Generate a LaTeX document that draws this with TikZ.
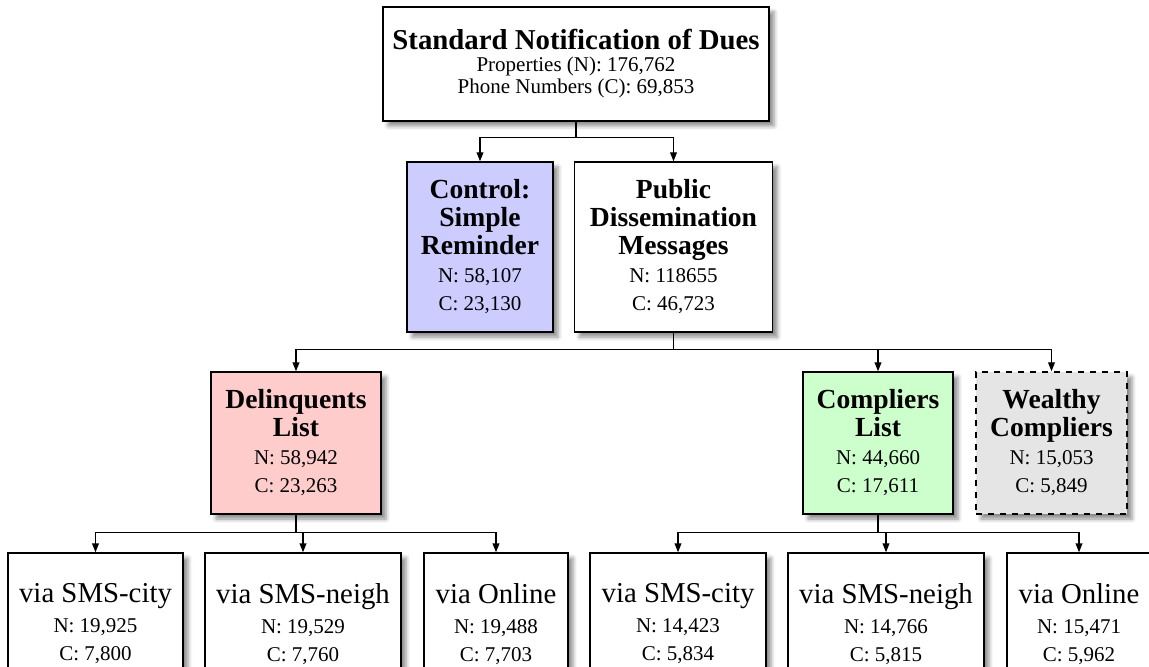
\documentclass[tikz,border=0pt]{standalone}
\usepackage{fontspec}
\setmainfont{Liberation Serif}
\usetikzlibrary{arrows.meta,shadows.blur}
\newcommand\ttl[1]{{\fontsize{13.8}{14}\selectfont\bfseries #1}}
\newcommand\via[1]{{\fontsize{14.4}{14}\selectfont #1}}
\tikzset{
  box/.style={draw, line width=0.7pt, fill=white, align=center, inner sep=0pt,
    font=\fontsize{10.5}{14}\selectfont,
    blur shadow={shadow xshift=2.5pt, shadow yshift=-2.5pt, shadow blur radius=2pt, shadow opacity=45}},
  link/.style={line width=0.7pt, -{Triangle[length=4.5pt,width=3.4pt]}}
}
\begin{document}
\begin{tikzpicture}[x=0.5pt, y=-0.5pt]
    \useasboundingbox (0,0) rectangle (1149,667);
    \clip (0,0) rectangle (1149,667);
    \node[box, minimum width=193pt, minimum height=57pt, font=\fontsize{10.5}{11}\selectfont] (top) at (576,64)
        {{\fontsize{14.4}{14}\selectfont\bfseries Standard Notification of Dues}\\
         Properties (N): 176,762\\ Phone Numbers (C): 69,853};
    \node[box, fill=blue!20, minimum width=73pt, minimum height=85pt] (ctrl) at (480,247)
        {\ttl{Control:}\\ \ttl{Simple}\\ \ttl{Reminder}\\ N: 58,107\\ C: 23,130};
    \node[box, minimum width=99pt, minimum height=85pt] (pub) at (673.5,247)
        {\ttl{Public}\\ \ttl{Dissemination}\\ \ttl{Messages}\\ N: 118655\\ C: 46,723};
    \node[box, fill=red!20, minimum width=85pt, minimum height=71pt] (del) at (296,443)
        {\ttl{Delinquents}\\ \ttl{List}\\ N: 58,942\\ C: 23,263};
    \node[box, fill=green!20, minimum width=75pt, minimum height=71pt] (comp) at (878,443)
        {\ttl{Compliers}\\ \ttl{List}\\ N: 44,660\\ C: 17,611};
    \node[box, dashed, fill=gray!20, minimum width=75.5pt, minimum height=71pt] (weal) at (1051.5,443)
        {\ttl{Wealthy}\\ \ttl{Compliers}\\ N: 15,053\\ C: 5,849};
    \node[box, minimum width=87.5pt, minimum height=71pt] (dsc) at (95.5,624)
        {\via{via SMS-city}\\[1pt] N: 19,925\\ C: 7,800};
    \node[box, minimum width=98pt, minimum height=71pt] (dsn) at (303,624)
        {\via{via SMS-neigh}\\[1pt] N: 19,529\\ C: 7,760};
    \node[box, minimum width=72pt, minimum height=71pt] (don) at (496,624)
        {\via{via Online}\\[1pt] N: 19,488\\ C: 7,703};
    \node[box, minimum width=88pt, minimum height=71pt] (csc) at (678,624)
        {\via{via SMS-city}\\[1pt] N: 14,423\\ C: 5,834};
    \node[box, minimum width=98pt, minimum height=71pt] (csn) at (886,624)
        {\via{via SMS-neigh}\\[1pt] N: 14,766\\ C: 5,815};
    \node[box, minimum width=72pt, minimum height=71pt] (con) at (1079,624)
        {\via{via Online}\\[1pt] N: 15,471\\ C: 5,962};
    \foreach \n in {ctrl,pub}
        \draw[link] (top.south) -- ++(0,16) -| (\n.north);
    \foreach \n in {del,comp,weal}
        \draw[link] (pub.south) -- ++(0,17) -| (\n.north);
    \foreach \n in {dsc,dsn,don}
        \draw[link] (del.south) -- ++(0,18) -| (\n.north);
    \foreach \n in {csc,csn,con}
        \draw[link] (comp.south) -- ++(0,18) -| (\n.north);
\end{tikzpicture}
\end{document}
